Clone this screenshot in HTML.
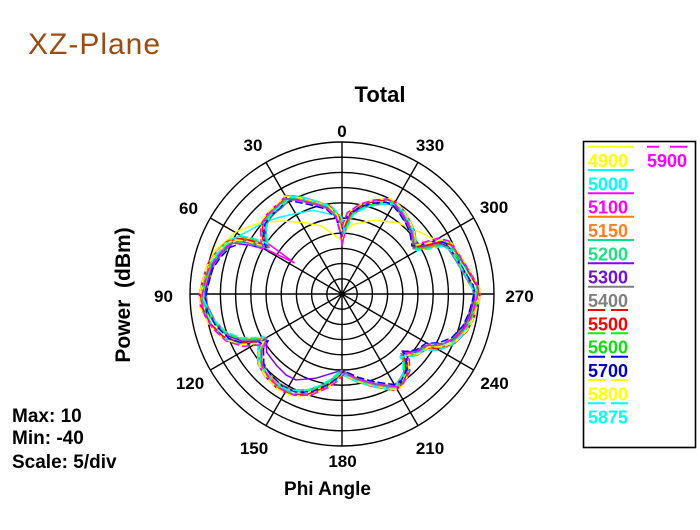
<!DOCTYPE html>
<html><head><meta charset="utf-8"><style>
html,body{margin:0;padding:0;background:#fff;}
svg{display:block;}
text{font-family:"Liberation Sans",Arial,sans-serif;}
</style></head><body>
<svg width="700" height="530" viewBox="0 0 700 530" xmlns="http://www.w3.org/2000/svg">
<rect width="700" height="530" fill="#fff"/>
<text x="28" y="54" font-size="30" fill="#9c4c12" letter-spacing="1">XZ-Plane</text>
<text x="380" y="102" font-size="22" font-weight="bold" text-anchor="middle">Total</text>

<g font-size="17" font-weight="bold" text-anchor="middle" fill="#000">
<text x="342" y="137">0</text>
<text x="253" y="151">30</text>
<text x="430" y="151">330</text>
<text x="188.5" y="214">60</text>
<text x="494" y="213">300</text>
<text x="163.5" y="302">90</text>
<text x="519.5" y="302">270</text>
<text x="190" y="389">120</text>
<text x="494.5" y="389">240</text>
<text x="254" y="454">150</text>
<text x="342.5" y="467">180</text>
<text x="430" y="454">210</text>
</g>
<text x="327.5" y="495" font-size="19" font-weight="bold" text-anchor="middle">Phi Angle</text>
<text transform="translate(130,295) rotate(-90)" font-size="21" font-weight="bold" text-anchor="middle">Power&#160;&#160;(dBm)</text>
<g font-size="19" font-weight="bold">
<text x="12" y="422">Max: 10</text>
<text x="12" y="444">Min: -40</text>
<text x="12" y="468">Scale: 5/div</text>
</g>

<g transform="translate(342,294)">
<g fill="none" stroke="#000" stroke-width="1.4">
<circle r="15.2"/><circle r="30.4"/><circle r="45.6"/><circle r="60.8"/><circle r="76"/>
<circle r="91.2"/><circle r="106.4"/><circle r="121.6"/><circle r="136.8"/><circle r="152"/>
<line x1="0" y1="-152" x2="0" y2="152"/>
<line x1="76" y1="-131.6" x2="-76" y2="131.6"/>
<line x1="131.6" y1="-76" x2="-131.6" y2="76"/>
<line x1="152" y1="0" x2="-152" y2="0"/>
<line x1="131.6" y1="76" x2="-131.6" y2="-76"/>
<line x1="76" y1="131.6" x2="-76" y2="-131.6"/>
</g>
<circle r="2.5" fill="#000"/>

<g fill="none" stroke-width="1.5" stroke-linejoin="round">
<!-- 4900 yellow -->
<path stroke="#ffff00" d="M91.3,-54 L78,-60.7 54.7,-70.7 31.3,-73 11.3,-69 4.7,-64 0,-54 -3.7,-55.7 -20.3,-67.3 -37,-70.7 -60.3,-72.3 -80.3,-70.7 -103.7,-62.3 -127,-42.3 -132,-29 -137,-12.3 -140,0 -138.7,12.7 -130.3,29.3 -117,42.7 -100.3,48.7 -83.7,47.7 -77,46 -82,54.3 -82,69.3 -75.3,81 -63.7,92.7 -50.3,99.3 -33.7,99.3 -17,92.7 -7,86 0,79 14.7,86 31.3,91 51.3,94.3 58,91 64.7,79.3 64.7,67.7 61.3,61 74.7,59.3 84.7,52.7 98,52.7 111.3,47.7 123,36 129.7,22.7 134.7,6 135.3,0 134.7,-6 129.7,-14 123,-25.7 114.7,-39 108,-49 98,-52.3 Z" transform="scale(1.01)"/>
<!-- 5000 cyan -->
<path stroke="#00ffff" d="M0,-69 L-7,-79 -30.3,-84 -47,-80.7 -67,-75.7 -80.3,-70.7 -107,-55.7 -123.7,-40.7 -132,-29 -137,-12.3 -140,0 -138.7,12.7 -130.3,29.3 -117,42.7 -100.3,48.7 -83.7,47.7 -77,46 -82,54.3 -82,69.3 -75.3,81 -63.7,92.7 -50.3,99.3 -33.7,99.3 -17,92.7 -7,86 0,79 14.7,86 31.3,91 51.3,94.3 58,91 64.7,79.3 64.7,67.7 61.3,61 74.7,59.3 84.7,52.7 98,52.7 111.3,47.7 123,36 129.7,22.7 134.7,6 135.3,0 134.7,-6 129.7,-14 123,-25.7 114.7,-39 108,-49 98,-52.3 84.7,-49 73,-47.3 71.3,-60.7 68,-69 61.3,-80.7 54.7,-89 48,-93 34.7,-92.3 21.3,-89 8,-80.7 Z" transform="scale(0.99) rotate(1)"/>
<!-- 5100 magenta -->
<path stroke="#ff00ff" d="M0,-48 L-3.7,-77.3 -13.7,-87.3 -30.3,-92.3 -47,-96.3 -55.3,-96.3 -62,-89 -70.3,-82.3 -77,-74 -78.7,-65.7 -78.7,-54 -47,-30.7 -92,-52.3 -104,-54 -113.7,-50.7 -123.7,-40.7 -132,-29 -137,-12.3 -140,0 -138.7,12.7 -130.3,29.3 -117,42.7 -100.3,48.7 -83.7,47.7 -77,46 -82,54.3 -82,69.3 -75.3,81 -63.7,92.7 -50.3,99.3 -33.7,99.3 -17,92.7 -7,86 0,79 14.7,86 31.3,91 51.3,94.3 58,91 64.7,79.3 64.7,67.7 61.3,61 74.7,59.3 84.7,52.7 98,52.7 111.3,47.7 123,36 129.7,22.7 134.7,6 135.3,0 134.7,-6 129.7,-14 123,-25.7 114.7,-39 108,-49 98,-52.3 84.7,-49 73,-47.3 71.3,-60.7 68,-69 61.3,-80.7 54.7,-89 48,-93 34.7,-92.3 21.3,-89 8,-80.7 Z" transform="scale(1.02)"/>
<!-- main-based series -->
<path id="m1" stroke="#ff8000" d="M0,-62 L-3.7,-77.3 -13.7,-87.3 -30.3,-92.3 -47,-96.3 -55.3,-96.3 -62,-89 -70.3,-82.3 -77,-74 -78.7,-65.7 -78.7,-54 -75.3,-47.3 -92,-52.3 -104,-54 -113.7,-50.7 -123.7,-40.7 -132,-29 -137,-12.3 -140,0 -138.7,12.7 -130.3,29.3 -117,42.7 -100.3,48.7 -83.7,47.7 -77,46 -82,54.3 -82,69.3 -75.3,81 -63.7,92.7 -50.3,99.3 -33.7,99.3 -17,92.7 -7,86 0,79 14.7,86 31.3,91 51.3,94.3 58,91 64.7,79.3 64.7,67.7 61.3,61 74.7,59.3 84.7,52.7 98,52.7 111.3,47.7 123,36 129.7,22.7 134.7,6 135.3,0 134.7,-6 129.7,-14 123,-25.7 114.7,-39 108,-49 98,-52.3 84.7,-49 73,-47.3 71.3,-60.7 68,-69 61.3,-80.7 54.7,-89 48,-93 34.7,-92.3 21.3,-89 8,-80.7 Z" transform="scale(0.985) rotate(1.5)"/>
<path stroke="#00e080" d="M0,-62 L-3.7,-77.3 -13.7,-87.3 -30.3,-92.3 -47,-96.3 -55.3,-96.3 -62,-89 -70.3,-82.3 -77,-74 -78.7,-65.7 -78.7,-54 -75.3,-47.3 -92,-52.3 -104,-54 -113.7,-50.7 -123.7,-40.7 -132,-29 -137,-12.3 -140,0 -138.7,12.7 -130.3,29.3 -117,42.7 -100.3,48.7 -83.7,47.7 -77,46 -82,54.3 -82,69.3 -75.3,81 -63.7,92.7 -50.3,99.3 -33.7,99.3 -17,92.7 -7,86 0,79 14.7,86 31.3,91 51.3,94.3 58,91 64.7,79.3 64.7,67.7 61.3,61 74.7,59.3 84.7,52.7 98,52.7 111.3,47.7 123,36 129.7,22.7 134.7,6 135.3,0 134.7,-6 129.7,-14 123,-25.7 114.7,-39 108,-49 98,-52.3 84.7,-49 73,-47.3 71.3,-60.7 68,-69 61.3,-80.7 54.7,-89 48,-93 34.7,-92.3 21.3,-89 8,-80.7 Z" transform="scale(1.0) rotate(-1)"/>
<!-- 5300 purple -->
<path stroke="#8000ff" d="M0,-62 L-3.7,-77.3 -13.7,-87.3 -30.3,-92.3 -47,-96.3 -55.3,-96.3 -62,-89 -70.3,-82.3 -77,-74 -78.7,-65.7 -78.7,-54 -75.3,-47.3 -92,-52.3 -104,-54 -113.7,-50.7 -123.7,-40.7 -132,-29 -137,-12.3 -140,0 -138.7,12.7 -130.3,29.3 -117,42.7 -100.3,48.7 -83.7,47.7 -77,46 -77,59.3 -67,72.7 -57,82.7 -47,87.7 -27,86 0,77.7 14.7,86 31.3,91 51.3,94.3 58,91 64.7,79.3 64.7,67.7 61.3,58 74.7,59.3 84.7,52.7 98,52.7 111.3,47.7 123,36 129.7,22.7 134.7,6 135.3,0 134.7,-6 129.7,-14 123,-25.7 114.7,-39 108,-49 98,-52.3 84.7,-49 73,-47.3 71.3,-60.7 68,-69 61.3,-80.7 54.7,-89 48,-93 34.7,-92.3 21.3,-89 8,-80.7 Z" transform="scale(0.98)"/>
<path stroke="#808080" d="M0,-62 L-3.7,-77.3 -13.7,-87.3 -30.3,-92.3 -47,-96.3 -55.3,-96.3 -62,-89 -70.3,-82.3 -77,-74 -78.7,-65.7 -78.7,-54 -75.3,-47.3 -92,-52.3 -104,-54 -113.7,-50.7 -123.7,-40.7 -132,-29 -137,-12.3 -140,0 -138.7,12.7 -130.3,29.3 -117,42.7 -100.3,48.7 -83.7,47.7 -77,46 -82,54.3 -82,69.3 -75.3,81 -63.7,92.7 -50.3,99.3 -33.7,99.3 -17,92.7 -7,86 0,79 14.7,86 31.3,91 51.3,94.3 58,91 64.7,79.3 64.7,67.7 61.3,61 74.7,59.3 84.7,52.7 98,52.7 111.3,47.7 123,36 129.7,22.7 134.7,6 135.3,0 134.7,-6 129.7,-14 123,-25.7 114.7,-39 108,-49 98,-52.3 84.7,-49 73,-47.3 71.3,-60.7 68,-69 61.3,-80.7 54.7,-89 48,-93 34.7,-92.3 21.3,-89 8,-80.7 Z" transform="scale(0.97) rotate(0.5)"/>
<path stroke="#ff0000" stroke-dasharray="8 3" d="M0,-62 L-3.7,-77.3 -13.7,-87.3 -30.3,-92.3 -47,-96.3 -55.3,-96.3 -62,-89 -70.3,-82.3 -77,-74 -78.7,-65.7 -78.7,-54 -75.3,-47.3 -92,-52.3 -104,-54 -113.7,-50.7 -123.7,-40.7 -132,-29 -137,-12.3 -140,0 -138.7,12.7 -130.3,29.3 -117,42.7 -100.3,48.7 -83.7,47.7 -77,46 -82,54.3 -82,69.3 -75.3,81 -63.7,92.7 -50.3,99.3 -33.7,99.3 -17,92.7 -7,86 0,79 14.7,86 31.3,91 51.3,94.3 58,91 64.7,79.3 64.7,67.7 61.3,61 74.7,59.3 84.7,52.7 98,52.7 111.3,47.7 123,36 129.7,22.7 134.7,6 135.3,0 134.7,-6 129.7,-14 123,-25.7 114.7,-39 108,-49 98,-52.3 84.7,-49 73,-47.3 71.3,-60.7 68,-69 61.3,-80.7 54.7,-89 48,-93 34.7,-92.3 21.3,-89 8,-80.7 Z" transform="scale(1.015) rotate(0.5)"/>
<path stroke="#00ff00" stroke-dasharray="8 3" d="M0,-62 L-3.7,-77.3 -13.7,-87.3 -30.3,-92.3 -47,-96.3 -55.3,-96.3 -62,-89 -70.3,-82.3 -77,-74 -78.7,-65.7 -78.7,-54 -75.3,-47.3 -92,-52.3 -104,-54 -113.7,-50.7 -123.7,-40.7 -132,-29 -137,-12.3 -140,0 -138.7,12.7 -130.3,29.3 -117,42.7 -100.3,48.7 -83.7,47.7 -77,46 -82,54.3 -82,69.3 -75.3,81 -63.7,92.7 -50.3,99.3 -33.7,99.3 -17,92.7 -7,86 0,79 14.7,86 31.3,91 51.3,94.3 58,91 64.7,79.3 64.7,67.7 61.3,61 74.7,59.3 84.7,52.7 98,52.7 111.3,47.7 123,36 129.7,22.7 134.7,6 135.3,0 134.7,-6 129.7,-14 123,-25.7 114.7,-39 108,-49 98,-52.3 84.7,-49 73,-47.3 71.3,-60.7 68,-69 61.3,-80.7 54.7,-89 48,-93 34.7,-92.3 21.3,-89 8,-80.7 Z" transform="scale(1.0) rotate(2)"/>
<path stroke="#0000ff" stroke-dasharray="8 3" d="M0,-62 L-3.7,-77.3 -13.7,-87.3 -30.3,-92.3 -47,-96.3 -55.3,-96.3 -62,-89 -70.3,-82.3 -77,-74 -78.7,-65.7 -78.7,-54 -75.3,-47.3 -92,-52.3 -104,-54 -113.7,-50.7 -123.7,-40.7 -132,-29 -137,-12.3 -140,0 -138.7,12.7 -130.3,29.3 -117,42.7 -100.3,48.7 -83.7,47.7 -77,46 -82,54.3 -82,69.3 -75.3,81 -63.7,92.7 -50.3,99.3 -33.7,99.3 -17,92.7 -7,86 0,79 14.7,86 31.3,91 51.3,94.3 58,91 64.7,79.3 64.7,67.7 61.3,61 74.7,59.3 84.7,52.7 98,52.7 111.3,47.7 123,36 129.7,22.7 134.7,6 135.3,0 134.7,-6 129.7,-14 123,-25.7 114.7,-39 108,-49 98,-52.3 84.7,-49 73,-47.3 71.3,-60.7 68,-69 61.3,-80.7 54.7,-89 48,-93 34.7,-92.3 21.3,-89 8,-80.7 Z" transform="scale(0.975) rotate(-1.5)"/>
<path stroke="#ffff00" stroke-dasharray="8 3" d="M0,-62 L-3.7,-77.3 -13.7,-87.3 -30.3,-92.3 -47,-96.3 -55.3,-96.3 -62,-89 -70.3,-82.3 -77,-74 -78.7,-65.7 -78.7,-54 -75.3,-47.3 -92,-52.3 -104,-54 -113.7,-50.7 -123.7,-40.7 -132,-29 -137,-12.3 -140,0 -138.7,12.7 -130.3,29.3 -117,42.7 -100.3,48.7 -83.7,47.7 -77,46 -82,54.3 -82,69.3 -75.3,81 -63.7,92.7 -50.3,99.3 -33.7,99.3 -17,92.7 -7,86 0,79 14.7,86 31.3,91 51.3,94.3 58,91 64.7,79.3 64.7,67.7 61.3,61 74.7,59.3 84.7,52.7 98,52.7 111.3,47.7 123,36 129.7,22.7 134.7,6 135.3,0 134.7,-6 129.7,-14 123,-25.7 114.7,-39 108,-49 98,-52.3 84.7,-49 73,-47.3 71.3,-60.7 68,-69 61.3,-80.7 54.7,-89 48,-93 34.7,-92.3 21.3,-89 8,-80.7 Z" transform="scale(1.02) rotate(-0.5)"/>
<path stroke="#00ffff" stroke-dasharray="8 3" d="M0,-62 L-3.7,-77.3 -13.7,-87.3 -30.3,-92.3 -47,-96.3 -55.3,-96.3 -62,-89 -70.3,-82.3 -77,-74 -78.7,-65.7 -78.7,-54 -75.3,-47.3 -92,-52.3 -104,-54 -113.7,-50.7 -123.7,-40.7 -132,-29 -137,-12.3 -140,0 -138.7,12.7 -130.3,29.3 -117,42.7 -100.3,48.7 -83.7,47.7 -77,46 -82,54.3 -82,69.3 -75.3,81 -63.7,92.7 -50.3,99.3 -33.7,99.3 -17,92.7 -7,86 0,79 14.7,86 31.3,91 51.3,94.3 58,91 64.7,79.3 64.7,67.7 61.3,61 74.7,59.3 84.7,52.7 98,52.7 111.3,47.7 123,36 129.7,22.7 134.7,6 135.3,0 134.7,-6 129.7,-14 123,-25.7 114.7,-39 108,-49 98,-52.3 84.7,-49 73,-47.3 71.3,-60.7 68,-69 61.3,-80.7 54.7,-89 48,-93 34.7,-92.3 21.3,-89 8,-80.7 Z" transform="scale(0.99) rotate(2.5)"/>
<path stroke="#ff00ff" stroke-dasharray="8 3" d="M0,-62 L-3.7,-77.3 -13.7,-87.3 -30.3,-92.3 -47,-96.3 -55.3,-96.3 -62,-89 -70.3,-82.3 -77,-74 -78.7,-65.7 -78.7,-54 -75.3,-47.3 -92,-52.3 -104,-54 -113.7,-50.7 -123.7,-40.7 -132,-29 -137,-12.3 -140,0 -138.7,12.7 -130.3,29.3 -117,42.7 -100.3,48.7 -83.7,47.7 -77,46 -82,54.3 -82,69.3 -75.3,81 -63.7,92.7 -50.3,99.3 -33.7,99.3 -17,92.7 -7,86 0,79 14.7,86 31.3,91 51.3,94.3 58,91 64.7,79.3 64.7,67.7 61.3,61 74.7,59.3 84.7,52.7 98,52.7 111.3,47.7 123,36 129.7,22.7 134.7,6 135.3,0 134.7,-6 129.7,-14 123,-25.7 114.7,-39 108,-49 98,-52.3 84.7,-49 73,-47.3 71.3,-60.7 68,-69 61.3,-80.7 54.7,-89 48,-93 34.7,-92.3 21.3,-89 8,-80.7 Z" transform="scale(1.005) rotate(-2)"/>
</g>
</g>

<!-- legend -->
<rect x="583.5" y="141.5" width="112" height="306" fill="#fff" stroke="#000" stroke-width="1.6"/>
<g stroke-width="2">
<line x1="588" y1="146.7" x2="634" y2="146.7" stroke="#ffff00"/>
<line x1="588" y1="170" x2="634" y2="170" stroke="#00ffff"/>
<line x1="588" y1="193.3" x2="634" y2="193.3" stroke="#ff00ff"/>
<line x1="588" y1="216.7" x2="634" y2="216.7" stroke="#ff8000"/>
<line x1="588" y1="240" x2="634" y2="240" stroke="#00e080"/>
<line x1="588" y1="263.3" x2="634" y2="263.3" stroke="#8000ff"/>
<line x1="588" y1="286.7" x2="634" y2="286.7" stroke="#808080"/>
<line x1="588" y1="310" x2="628" y2="310" stroke="#ff0000" stroke-dasharray="17 6"/>
<line x1="588" y1="333.3" x2="628" y2="333.3" stroke="#00ff00" stroke-dasharray="17 6"/>
<line x1="588" y1="356.7" x2="628" y2="356.7" stroke="#0000ff" stroke-dasharray="17 6"/>
<line x1="588" y1="380" x2="628" y2="380" stroke="#ffff00" stroke-dasharray="17 6"/>
<line x1="588" y1="403.3" x2="628" y2="403.3" stroke="#00ffff" stroke-dasharray="17 6"/>
<line x1="647" y1="146.7" x2="687" y2="146.7" stroke="#ff00ff" stroke-dasharray="12 11 17"/>
</g>
<g font-size="18" font-weight="bold">
<text x="588" y="167" fill="#ffff00">4900</text>
<text x="588" y="190.3" fill="#00ffff">5000</text>
<text x="588" y="213.7" fill="#ff00ff">5100</text>
<text x="588" y="237" fill="#ff8020">5150</text>
<text x="588" y="260.3" fill="#20e080">5200</text>
<text x="588" y="283.7" fill="#7010e0">5300</text>
<text x="588" y="307" fill="#808080">5400</text>
<text x="588" y="330.3" fill="#ff0000">5500</text>
<text x="588" y="353.7" fill="#10e010">5600</text>
<text x="588" y="377" fill="#0000d0">5700</text>
<text x="588" y="400.3" fill="#ffff00">5800</text>
<text x="588" y="423.7" fill="#00ffff">5875</text>
<text x="647" y="167" fill="#ff00ff">5900</text>
</g>
</svg>
</body></html>
